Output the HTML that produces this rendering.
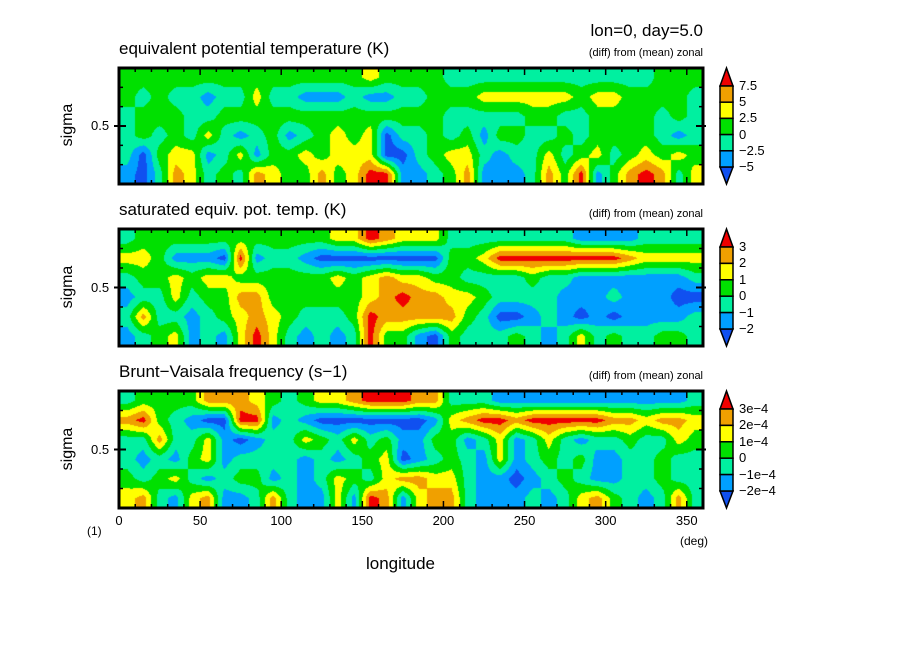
<!DOCTYPE html>
<html><head><meta charset="utf-8">
<style>
body{margin:0;background:#fff;}
#root{position:relative;width:904px;height:654px;background:#fff;font-family:"Liberation Sans",sans-serif;color:#000;overflow:hidden}
.t{position:absolute;white-space:nowrap;line-height:1}
canvas{position:absolute}
</style></head>
<body>
<div id="root">
<div class="t" style="right:201px;top:22px;font-size:17px">lon=0, day=5.0</div>
<svg id="svg" width="904" height="654" style="position:absolute;left:0;top:0"></svg>
</div>
<script>
// Level-index data (0=darkest blue ... 6=red), rows top(sigma=1) to bottom, 36 longitude columns of 10 deg
const lonTicks=[0,50,100,150,200,250,300,350];
const p1Labels=["7.5","5","2.5","0","\u22122.5","\u22125"];
const p2Labels=["3","2","1","0","\u22121","\u22122"];
const p3Labels=["3e\u22124","2e\u22124","1e\u22124","0","\u22121e\u22124","\u22122e\u22124"];
const p1Row0=[3,3,3,3,3,3,3,3,3,3,3,3,3,3,3,4,3,3,3,3,2,2,2,2,2,2,2,2,2,2,2,2,2,3,3,3];
const p1Row1=[3,2,3,2,2,1,2,2,4,2,2,1,1,1,2,1,1,2,2,3,3,3,4,4,4,4,4,4,3,4,4,3,3,3,3,2];
const p1Row2=[2,3,3,3,2,2,3,3,3,3,3,3,3,3,3,3,3,3,3,3,2,2,2,2,2,3,3,2,2,3,3,3,3,2,3,2];
const p1Row3=[2,3,2,3,2,4,2,1,2,3,1,2,3,4,3,4,0,2,2,3,2,3,1,3,3,2,2,3,2,3,3,3,3,2,1,2];
const p1Row4=[2,0,3,4,4,1,2,4,1,3,3,4,3,4,4,4,0,0,2,3,4,4,2,1,2,2,4,2,3,4,2,3,4,3,4,3];
const p1Row5=[1,0,2,5,4,2,3,2,5,4,3,3,5,3,4,6,6,1,1,2,3,5,1,1,1,2,5,3,6,1,3,5,6,5,2,4];
const p2Row0=[2,3,3,3,3,3,3,3,3,3,3,3,3,4,4,6,5,4,4,4,2,2,2,2,2,2,2,2,1,1,1,1,2,2,2,2];
const p2Row1=[4,4,3,1,1,1,0,6,1,2,2,1,0,0,0,0,0,0,0,0,3,3,4,6,6,6,6,6,6,6,6,5,4,4,4,4];
const p2Row2=[2,3,3,4,3,4,4,3,3,3,3,3,3,4,3,4,5,4,4,3,3,2,2,2,2,3,2,2,1,1,1,1,1,1,1,2];
const p2Row3=[1,2,2,4,2,3,3,5,5,3,3,3,3,3,3,4,5,6,5,5,4,4,3,2,2,2,2,1,1,1,2,1,1,1,0,0];
const p2Row4=[2,5,2,2,1,2,3,4,5,4,3,2,2,2,3,6,5,5,5,5,5,3,2,0,0,1,2,1,0,1,0,1,1,1,1,2];
const p2Row5=[1,2,3,4,1,2,1,4,6,4,2,1,2,1,2,6,3,3,1,0,3,2,2,2,3,2,1,2,4,2,3,2,2,3,3,2];
const p3Row0=[2,3,3,3,3,5,5,5,4,3,2,3,4,4,5,6,6,6,5,5,2,2,2,1,1,1,1,1,1,1,1,1,1,1,1,2];
const p3Row1=[5,6,3,2,1,0,0,6,6,1,2,1,0,0,0,0,0,0,0,1,4,5,6,6,5,6,6,6,6,6,5,5,4,5,5,4];
const p3Row2=[2,2,5,2,2,4,1,0,1,2,2,4,3,2,4,2,3,1,1,3,3,1,2,4,1,2,4,2,1,2,2,3,2,2,4,3];
const p3Row3=[2,1,2,1,3,4,1,2,2,2,2,1,2,1,2,3,4,0,1,2,3,2,1,4,1,2,3,2,3,1,1,2,2,3,2,2];
const p3Row4=[3,2,3,4,2,1,2,3,3,1,2,1,2,4,3,2,4,5,5,4,4,2,1,1,0,1,2,3,2,1,1,2,2,3,2,2];
const p3Row5=[4,5,2,1,4,5,1,1,2,5,2,1,1,4,1,6,5,1,4,5,5,2,1,1,1,2,1,2,4,5,3,2,1,2,5,2];

const COLORS=[[16,80,240],[0,160,255],[0,240,160],[0,224,0],[255,255,0],[240,160,0],[240,0,0]];
const X0=119,X1=703;
const xs=v=>X0+(v/360)*(X1-X0);
const root=document.getElementById('root');
const svg=document.getElementById('svg');
const NS='http://www.w3.org/2000/svg';
function mk(tag,attrs,parent){const e=document.createElementNS(NS,tag);for(const k in attrs)e.setAttribute(k,attrs[k]);(parent||svg).appendChild(e);return e;}
function txt(s,css,name){const d=document.createElement('div');d.className='t';d.textContent=s;d.style.cssText=css;


root.appendChild(d);return d;}

const panels=[
 {y0:68,y1:184,rows:[p1Row0,p1Row1,p1Row2,p1Row3,p1Row4,p1Row5],title:"equivalent potential temperature (K)",labels:p1Labels,id:'eqpt'},
 {y0:229,y1:346,rows:[p2Row0,p2Row1,p2Row2,p2Row3,p2Row4,p2Row5],title:"saturated equiv. pot. temp. (K)",labels:p2Labels,id:'sat'},
 {y0:391,y1:508,rows:[p3Row0,p3Row1,p3Row2,p3Row3,p3Row4,p3Row5],title:"Brunt\u2212Vaisala frequency (s\u22121)",labels:p3Labels,id:'bv'}
];

panels.forEach(p=>{
 const W=X1-X0,H=p.y1-p.y0;
 const cv=document.createElement('canvas');cv.width=W;cv.height=H;
 cv.style.left=X0+'px';cv.style.top=p.y0+'px';
 
 
 root.insertBefore(cv,svg);
 const ctx=cv.getContext('2d');const img=ctx.createImageData(W,H);
 const R=p.rows.length,C=p.rows[0].length;
 for(let j=0;j<H;j++){
  let fy=(j+0.5)/H*R-0.5;fy=Math.max(0,Math.min(R-1,fy));
  const r0=Math.floor(fy),r1=Math.min(R-1,r0+1),ty=fy-r0;
  for(let i=0;i<W;i++){
   let fx=(i+0.5)/W*C-0.5;fx=Math.max(0,Math.min(C-1,fx));
   const c0=Math.floor(fx),c1=Math.min(C-1,c0+1),tx=fx-c0;
   const v=(p.rows[r0][c0]*(1-tx)+p.rows[r0][c1]*tx)*(1-ty)+(p.rows[r1][c0]*(1-tx)+p.rows[r1][c1]*tx)*ty;
   const k=Math.max(0,Math.min(6,Math.round(v)));const col=COLORS[k];
   const o=(j*W+i)*4;img.data[o]=col[0];img.data[o+1]=col[1];img.data[o+2]=col[2];img.data[o+3]=255;
  }
 }
 ctx.putImageData(img,0,0);
 const fr=mk('rect',{x:X0,y:p.y0,width:W,height:H,fill:'none',stroke:'#000','stroke-width':3});
 
 
 for(let v=0;v<=360;v+=10){
  const x=xs(v),len=(v%50===0)?7:4;
  mk('line',{x1:x,x2:x,y1:p.y0,y2:p.y0+len,stroke:'#000','stroke-width':1.5});
  mk('line',{x1:x,x2:x,y1:p.y1,y2:p.y1-len,stroke:'#000','stroke-width':1.5});
 }
 const ym=(p.y0+p.y1)/2;
 for(let k=1;k<6;k++){const y=p.y0+H*k/6;
  mk('line',{x1:X0,x2:X0+4,y1:y,y2:y,stroke:'#000','stroke-width':1.5});
  mk('line',{x1:X1,x2:X1-4,y1:y,y2:y,stroke:'#000','stroke-width':1.5});}
 mk('line',{x1:X0-5,x2:X0+7,y1:ym,y2:ym,stroke:'#000','stroke-width':2});
 mk('line',{x1:X1-7,x2:X1+3,y1:ym,y2:ym,stroke:'#000','stroke-width':2});
 txt(p.title,`left:119px;top:${p.y0-28}px;font-size:17px`,p.id+'-title');
 txt("(diff) from (mean) zonal",`right:201px;top:${p.y0-20}px;font-size:11px`,p.id+'-subtitle');
 txt("0.5",`left:91px;top:${ym-7}px;font-size:13px`,p.id+'-y-tick-label');
 txt("sigma",`left:46px;top:${ym-9}px;font-size:16px;transform:rotate(-90deg);transform-origin:center;width:44px;text-align:center`,p.id+'-y-axis-title');
 const bx=720,bw=13,b0=p.y0+18,b1=p.y1-17,step=(b1-b0)/5;
 const g=mk('g',{});
 mk('polygon',{points:`${bx},${b0} ${bx+bw},${b0} ${bx+bw/2},${p.y0}`,fill:'rgb(240,0,0)',stroke:'#000','stroke-width':1.5},g);
 mk('polygon',{points:`${bx},${b1} ${bx+bw},${b1} ${bx+bw/2},${p.y1}`,fill:'rgb(16,80,240)',stroke:'#000','stroke-width':1.5},g);
 for(let k=0;k<5;k++){const c=COLORS[5-k];
  mk('rect',{x:bx,y:b0+k*step,width:bw,height:step,fill:`rgb(${c[0]},${c[1]},${c[2]})`,stroke:'#000','stroke-width':1.5},g);}
 p.labels.forEach((l,k)=>txt(l,`left:739px;top:${b0+k*step-7}px;font-size:13px`,p.id+'-colorbar-label'));
});
lonTicks.forEach(v=>txt(String(v),`left:${xs(v)-20}px;width:40px;text-align:center;top:514px;font-size:13px`,'x-tick-label'));
txt("longitude","left:366px;top:555px;font-size:17px",'x-axis-title');
txt("(1)","left:87px;top:525px;font-size:12px",'y-unit-label');
txt("(deg)","left:680px;top:535px;font-size:12px",'x-unit-label');
</script>
</body></html>
